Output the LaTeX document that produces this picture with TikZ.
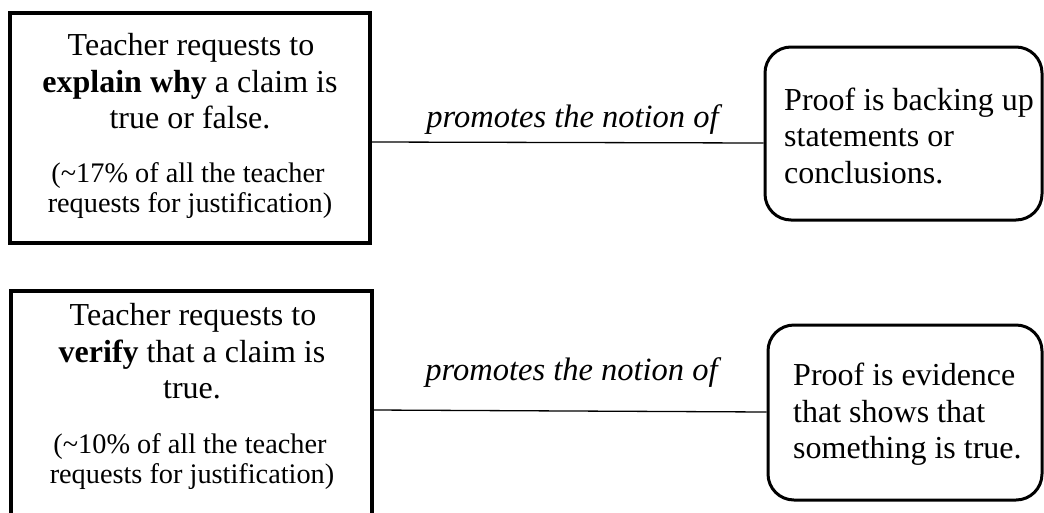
\documentclass[tikz,border=0pt]{standalone}
\usepackage{fontspec}
\setmainfont{Liberation Serif}
\begin{document}
\begin{tikzpicture}[x=1pt,y=-1pt,
  sqbox/.style={draw=black,line width=3.2pt,rectangle,inner sep=0pt},
  rdbox/.style={draw=black,line width=3pt,rectangle,rounded corners=26pt,inner sep=0pt},
  big/.style={font=\fontsize{32}{37}\selectfont,inner sep=0pt,anchor=base},
  small/.style={font=\fontsize{28.3}{30}\selectfont,inner sep=0pt,anchor=base},
  lbl/.style={font=\fontsize{32.5}{37}\selectfont\itshape,inner sep=0pt,anchor=base},
  link/.style={draw=black,line width=1.3pt}]
\useasboundingbox[fill=white] (0,0) rectangle (1044,512);
% boxes
\node[sqbox,minimum width=360pt,minimum height=230pt] (b1) at (190,128) {};
\node[sqbox,minimum width=361pt,minimum height=229pt] (b2) at (191.5,405.5) {};
\node[rdbox,minimum width=277pt,minimum height=173pt] (r1) at (903.5,133.5) {};
\node[rdbox,minimum width=274pt,minimum height=175pt] (r2) at (905,412.5) {};
% text of box 1
\node[big] (b1a) at (191,55) {Teacher requests to};
\node[big] (b1b) at (190,92) {\textbf{explain why} a claim is};
\node[big] (b1c) at (190,128) {true or false.};
\node[small] (b1d) at (188,182) {({\char"7E}17\% of all the teacher};
\node[small] (b1e) at (190,212) {requests for justification)};
% text of box 2
\node[big] (b2a) at (193,325) {Teacher requests to};
\node[big] (b2b) at (192,362) {\textbf{verify} that a claim is};
\node[big] (b2c) at (192,398) {true.};
\node[small] (b2d) at (190,453) {({\char"7E}10\% of all the teacher};
\node[small] (b2e) at (192,483) {requests for justification)};
% right texts
\node[big,anchor=base west] (r1a) at (784,110) {Proof is backing up};
\node[big,anchor=base west] (r1b) at (784,146.5) {statements or};
\node[big,anchor=base west] (r1c) at (784,183) {conclusions.};
\node[big,anchor=base west] (r2a) at (793,385) {Proof is evidence};
\node[big,anchor=base west] (r2b) at (793,422) {that shows that};
\node[big,anchor=base west] (r2c) at (793,458) {something is true.};
% connectors
\draw[link] ([yshift=-14pt]b1.east) -- ([yshift=-9.5pt]r1.west);
\draw[link] ([yshift=-4.5pt]b2.east) -- ([yshift=0.5pt]r2.west);
% labels
\node[lbl] (l1) at (572.5,127) {promotes the notion of};
\node[lbl] (l2) at (571.5,380.5) {promotes the notion of};
\end{tikzpicture}
\end{document}
